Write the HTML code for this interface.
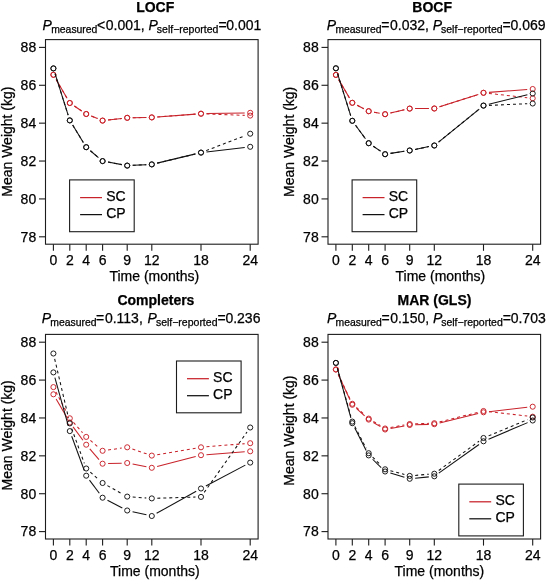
<!DOCTYPE html><html><head><meta charset="utf-8"><style>
html,body{margin:0;padding:0;background:#fff;}
svg{display:block;font-family:"Liberation Sans", sans-serif;will-change:transform;} text{stroke:#000;stroke-width:0.25px;}
</style></head><body>
<svg width="546" height="580" viewBox="0 0 546 580" fill="#000">
<rect width="546" height="580" fill="#fff"/>
<g transform="translate(0,0)">
<text x="155.2" y="11.8" font-weight="bold" font-size="14" text-anchor="middle">LOCF</text>
<text x="42.6" y="30.2" font-size="14" font-style="italic">P</text>
<text x="51.2" y="33.3" font-size="10.4">measured</text>
<text x="97" y="30.2" font-size="14">&lt;</text>
<text x="105.8" y="30.2" font-size="14">0.001,</text>
<text x="148.5" y="30.2" font-size="14" font-style="italic">P</text>
<text x="156.8" y="33.3" font-size="10.5">self−reported</text>
<text x="218.4" y="30.2" font-size="14">=</text>
<text x="226.3" y="30.2" font-size="14">0.001</text>
<rect x="45.5" y="39.6" width="212.6" height="204.6" fill="none" stroke="#1c1c1c" stroke-width="1.1"/>
<line x1="39" y1="236.8" x2="45.5" y2="236.8" stroke="#1c1c1c" stroke-width="1.1"/>
<text x="36.2" y="241.6" font-size="14" text-anchor="end">78</text>
<line x1="39" y1="198.92" x2="45.5" y2="198.92" stroke="#1c1c1c" stroke-width="1.1"/>
<text x="36.2" y="203.72" font-size="14" text-anchor="end">80</text>
<line x1="39" y1="161.04" x2="45.5" y2="161.04" stroke="#1c1c1c" stroke-width="1.1"/>
<text x="36.2" y="165.84" font-size="14" text-anchor="end">82</text>
<line x1="39" y1="123.16" x2="45.5" y2="123.16" stroke="#1c1c1c" stroke-width="1.1"/>
<text x="36.2" y="127.96" font-size="14" text-anchor="end">84</text>
<line x1="39" y1="85.28" x2="45.5" y2="85.28" stroke="#1c1c1c" stroke-width="1.1"/>
<text x="36.2" y="90.08" font-size="14" text-anchor="end">86</text>
<line x1="39" y1="47.4" x2="45.5" y2="47.4" stroke="#1c1c1c" stroke-width="1.1"/>
<text x="36.2" y="52.2" font-size="14" text-anchor="end">88</text>
<line x1="53.4" y1="244.2" x2="53.4" y2="250.8" stroke="#1c1c1c" stroke-width="1.1"/>
<text x="53.4" y="264.6" font-size="14" text-anchor="middle">0</text>
<line x1="69.8" y1="244.2" x2="69.8" y2="250.8" stroke="#1c1c1c" stroke-width="1.1"/>
<text x="69.8" y="264.6" font-size="14" text-anchor="middle">2</text>
<line x1="86.2" y1="244.2" x2="86.2" y2="250.8" stroke="#1c1c1c" stroke-width="1.1"/>
<text x="86.2" y="264.6" font-size="14" text-anchor="middle">4</text>
<line x1="102.6" y1="244.2" x2="102.6" y2="250.8" stroke="#1c1c1c" stroke-width="1.1"/>
<text x="102.6" y="264.6" font-size="14" text-anchor="middle">6</text>
<line x1="127.2" y1="244.2" x2="127.2" y2="250.8" stroke="#1c1c1c" stroke-width="1.1"/>
<text x="127.2" y="264.6" font-size="14" text-anchor="middle">9</text>
<line x1="151.8" y1="244.2" x2="151.8" y2="250.8" stroke="#1c1c1c" stroke-width="1.1"/>
<text x="151.8" y="264.6" font-size="14" text-anchor="middle">12</text>
<line x1="201" y1="244.2" x2="201" y2="250.8" stroke="#1c1c1c" stroke-width="1.1"/>
<text x="201" y="264.6" font-size="14" text-anchor="middle">18</text>
<line x1="250.2" y1="244.2" x2="250.2" y2="250.8" stroke="#1c1c1c" stroke-width="1.1"/>
<text x="250.2" y="264.6" font-size="14" text-anchor="middle">24</text>
<text x="154.3" y="280.6" font-size="14" text-anchor="middle">Time (months)</text>
<text transform="translate(12,141.65) rotate(-90)" x="0" y="0" font-size="14" text-anchor="middle">Mean Weight (kg)</text>
<line x1="56.16" y1="79.55" x2="67.04" y2="98.25" stroke="#c8222a" stroke-width="1.05"/>
<line x1="74.37" y1="106.06" x2="81.63" y2="110.94" stroke="#c8222a" stroke-width="1.05"/>
<line x1="91.3" y1="116.05" x2="97.5" y2="118.55" stroke="#c8222a" stroke-width="1.05"/>
<line x1="108.06" y1="119.98" x2="121.74" y2="118.42" stroke="#c8222a" stroke-width="1.05"/>
<line x1="132.7" y1="117.71" x2="146.3" y2="117.49" stroke="#c8222a" stroke-width="1.05"/>
<line x1="157.28" y1="116.99" x2="195.52" y2="114.11" stroke="#c8222a" stroke-width="1.05"/>
<line x1="206.5" y1="113.6" x2="244.7" y2="112.9" stroke="#c8222a" stroke-width="1.05"/>
<circle cx="53.4" cy="74.8" r="2.55" fill="none" stroke="#c8222a" stroke-width="0.95"/>
<circle cx="69.8" cy="103" r="2.55" fill="none" stroke="#c8222a" stroke-width="0.95"/>
<circle cx="86.2" cy="114" r="2.55" fill="none" stroke="#c8222a" stroke-width="0.95"/>
<circle cx="102.6" cy="120.6" r="2.55" fill="none" stroke="#c8222a" stroke-width="0.95"/>
<circle cx="127.2" cy="117.8" r="2.55" fill="none" stroke="#c8222a" stroke-width="0.95"/>
<circle cx="151.8" cy="117.4" r="2.55" fill="none" stroke="#c8222a" stroke-width="0.95"/>
<circle cx="201" cy="113.7" r="2.55" fill="none" stroke="#c8222a" stroke-width="0.95"/>
<circle cx="250.2" cy="112.8" r="2.55" fill="none" stroke="#c8222a" stroke-width="0.95"/>
<line x1="56.16" y1="79.55" x2="67.04" y2="98.25" stroke="#c8222a" stroke-width="1.05" stroke-dasharray="3 3"/>
<line x1="74.37" y1="106.06" x2="81.63" y2="110.94" stroke="#c8222a" stroke-width="1.05" stroke-dasharray="3 3"/>
<line x1="91.3" y1="116.05" x2="97.5" y2="118.55" stroke="#c8222a" stroke-width="1.05" stroke-dasharray="3 3"/>
<line x1="108.06" y1="119.98" x2="121.74" y2="118.42" stroke="#c8222a" stroke-width="1.05" stroke-dasharray="3 3"/>
<line x1="132.7" y1="117.71" x2="146.3" y2="117.49" stroke="#c8222a" stroke-width="1.05" stroke-dasharray="3 3"/>
<line x1="157.28" y1="116.99" x2="195.52" y2="114.11" stroke="#c8222a" stroke-width="1.05" stroke-dasharray="3 3"/>
<line x1="206.5" y1="113.91" x2="244.7" y2="115.39" stroke="#c8222a" stroke-width="1.05" stroke-dasharray="3 3"/>
<circle cx="53.4" cy="74.8" r="2.55" fill="none" stroke="#c8222a" stroke-width="0.95"/>
<circle cx="69.8" cy="103" r="2.55" fill="none" stroke="#c8222a" stroke-width="0.95"/>
<circle cx="86.2" cy="114" r="2.55" fill="none" stroke="#c8222a" stroke-width="0.95"/>
<circle cx="102.6" cy="120.6" r="2.55" fill="none" stroke="#c8222a" stroke-width="0.95"/>
<circle cx="127.2" cy="117.8" r="2.55" fill="none" stroke="#c8222a" stroke-width="0.95"/>
<circle cx="151.8" cy="117.4" r="2.55" fill="none" stroke="#c8222a" stroke-width="0.95"/>
<circle cx="201" cy="113.7" r="2.55" fill="none" stroke="#c8222a" stroke-width="0.95"/>
<circle cx="250.2" cy="115.6" r="2.55" fill="none" stroke="#c8222a" stroke-width="0.95"/>
<line x1="55.05" y1="73.65" x2="68.15" y2="115.15" stroke="#111" stroke-width="1.05"/>
<line x1="72.67" y1="125.09" x2="83.33" y2="142.51" stroke="#111" stroke-width="1.05"/>
<line x1="90.4" y1="150.76" x2="98.4" y2="157.54" stroke="#111" stroke-width="1.05"/>
<line x1="108.01" y1="162.09" x2="121.79" y2="164.61" stroke="#111" stroke-width="1.05"/>
<line x1="132.69" y1="165.33" x2="146.31" y2="164.67" stroke="#111" stroke-width="1.05"/>
<line x1="157.15" y1="163.12" x2="195.65" y2="153.88" stroke="#111" stroke-width="1.05"/>
<line x1="206.46" y1="151.96" x2="244.74" y2="147.44" stroke="#111" stroke-width="1.05"/>
<circle cx="53.4" cy="68.4" r="2.55" fill="none" stroke="#111" stroke-width="0.95"/>
<circle cx="69.8" cy="120.4" r="2.55" fill="none" stroke="#111" stroke-width="0.95"/>
<circle cx="86.2" cy="147.2" r="2.55" fill="none" stroke="#111" stroke-width="0.95"/>
<circle cx="102.6" cy="161.1" r="2.55" fill="none" stroke="#111" stroke-width="0.95"/>
<circle cx="127.2" cy="165.6" r="2.55" fill="none" stroke="#111" stroke-width="0.95"/>
<circle cx="151.8" cy="164.4" r="2.55" fill="none" stroke="#111" stroke-width="0.95"/>
<circle cx="201" cy="152.6" r="2.55" fill="none" stroke="#111" stroke-width="0.95"/>
<circle cx="250.2" cy="146.8" r="2.55" fill="none" stroke="#111" stroke-width="0.95"/>
<line x1="55.05" y1="73.65" x2="68.15" y2="115.15" stroke="#111" stroke-width="1.05" stroke-dasharray="3 3"/>
<line x1="72.67" y1="125.09" x2="83.33" y2="142.51" stroke="#111" stroke-width="1.05" stroke-dasharray="3 3"/>
<line x1="90.4" y1="150.76" x2="98.4" y2="157.54" stroke="#111" stroke-width="1.05" stroke-dasharray="3 3"/>
<line x1="108.01" y1="162.09" x2="121.79" y2="164.61" stroke="#111" stroke-width="1.05" stroke-dasharray="3 3"/>
<line x1="132.69" y1="165.33" x2="146.31" y2="164.67" stroke="#111" stroke-width="1.05" stroke-dasharray="3 3"/>
<line x1="157.15" y1="163.12" x2="195.65" y2="153.88" stroke="#111" stroke-width="1.05" stroke-dasharray="3 3"/>
<line x1="206.13" y1="150.63" x2="245.07" y2="135.67" stroke="#111" stroke-width="1.05" stroke-dasharray="3 3"/>
<circle cx="53.4" cy="68.4" r="2.55" fill="none" stroke="#111" stroke-width="0.95"/>
<circle cx="69.8" cy="120.4" r="2.55" fill="none" stroke="#111" stroke-width="0.95"/>
<circle cx="86.2" cy="147.2" r="2.55" fill="none" stroke="#111" stroke-width="0.95"/>
<circle cx="102.6" cy="161.1" r="2.55" fill="none" stroke="#111" stroke-width="0.95"/>
<circle cx="127.2" cy="165.6" r="2.55" fill="none" stroke="#111" stroke-width="0.95"/>
<circle cx="151.8" cy="164.4" r="2.55" fill="none" stroke="#111" stroke-width="0.95"/>
<circle cx="201" cy="152.6" r="2.55" fill="none" stroke="#111" stroke-width="0.95"/>
<circle cx="250.2" cy="133.7" r="2.55" fill="none" stroke="#111" stroke-width="0.95"/>
<rect x="69.6" y="179.9" width="64.6" height="51.8" fill="none" stroke="#1c1c1c" stroke-width="1.1"/>
<line x1="80.1" y1="197.6" x2="102" y2="197.6" stroke="#c8222a" stroke-width="1.25"/>
<line x1="80.1" y1="214.6" x2="102" y2="214.6" stroke="#111" stroke-width="1.25"/>
<text x="106.2" y="201.3" font-size="14">SC</text>
<text x="106.2" y="218.3" font-size="14">CP</text>
</g>
<g transform="translate(282.5,0)">
<text x="149.7" y="11.8" font-weight="bold" font-size="14" text-anchor="middle">BOCF</text>
<text x="44.3" y="30.2" font-size="14" font-style="italic">P</text>
<text x="52.9" y="33.3" font-size="10.4">measured</text>
<text x="98.7" y="30.2" font-size="14">=</text>
<text x="107.5" y="30.2" font-size="14">0.032,</text>
<text x="150.2" y="30.2" font-size="14" font-style="italic">P</text>
<text x="158.5" y="33.3" font-size="10.5">self−reported</text>
<text x="220.1" y="30.2" font-size="14">=</text>
<text x="228" y="30.2" font-size="14">0.069</text>
<rect x="45.5" y="39.6" width="212.6" height="204.6" fill="none" stroke="#1c1c1c" stroke-width="1.1"/>
<line x1="39" y1="236.8" x2="45.5" y2="236.8" stroke="#1c1c1c" stroke-width="1.1"/>
<text x="36.2" y="241.6" font-size="14" text-anchor="end">78</text>
<line x1="39" y1="198.92" x2="45.5" y2="198.92" stroke="#1c1c1c" stroke-width="1.1"/>
<text x="36.2" y="203.72" font-size="14" text-anchor="end">80</text>
<line x1="39" y1="161.04" x2="45.5" y2="161.04" stroke="#1c1c1c" stroke-width="1.1"/>
<text x="36.2" y="165.84" font-size="14" text-anchor="end">82</text>
<line x1="39" y1="123.16" x2="45.5" y2="123.16" stroke="#1c1c1c" stroke-width="1.1"/>
<text x="36.2" y="127.96" font-size="14" text-anchor="end">84</text>
<line x1="39" y1="85.28" x2="45.5" y2="85.28" stroke="#1c1c1c" stroke-width="1.1"/>
<text x="36.2" y="90.08" font-size="14" text-anchor="end">86</text>
<line x1="39" y1="47.4" x2="45.5" y2="47.4" stroke="#1c1c1c" stroke-width="1.1"/>
<text x="36.2" y="52.2" font-size="14" text-anchor="end">88</text>
<line x1="53.4" y1="244.2" x2="53.4" y2="250.8" stroke="#1c1c1c" stroke-width="1.1"/>
<text x="53.4" y="264.6" font-size="14" text-anchor="middle">0</text>
<line x1="69.8" y1="244.2" x2="69.8" y2="250.8" stroke="#1c1c1c" stroke-width="1.1"/>
<text x="69.8" y="264.6" font-size="14" text-anchor="middle">2</text>
<line x1="86.2" y1="244.2" x2="86.2" y2="250.8" stroke="#1c1c1c" stroke-width="1.1"/>
<text x="86.2" y="264.6" font-size="14" text-anchor="middle">4</text>
<line x1="102.6" y1="244.2" x2="102.6" y2="250.8" stroke="#1c1c1c" stroke-width="1.1"/>
<text x="102.6" y="264.6" font-size="14" text-anchor="middle">6</text>
<line x1="127.2" y1="244.2" x2="127.2" y2="250.8" stroke="#1c1c1c" stroke-width="1.1"/>
<text x="127.2" y="264.6" font-size="14" text-anchor="middle">9</text>
<line x1="151.8" y1="244.2" x2="151.8" y2="250.8" stroke="#1c1c1c" stroke-width="1.1"/>
<text x="151.8" y="264.6" font-size="14" text-anchor="middle">12</text>
<line x1="201" y1="244.2" x2="201" y2="250.8" stroke="#1c1c1c" stroke-width="1.1"/>
<text x="201" y="264.6" font-size="14" text-anchor="middle">18</text>
<line x1="250.2" y1="244.2" x2="250.2" y2="250.8" stroke="#1c1c1c" stroke-width="1.1"/>
<text x="250.2" y="264.6" font-size="14" text-anchor="middle">24</text>
<text x="157.9" y="280.6" font-size="14" text-anchor="middle">Time (months)</text>
<text transform="translate(11.1,141.85) rotate(-90)" x="0" y="0" font-size="14" text-anchor="middle">Mean Weight (kg)</text>
<line x1="56.19" y1="79.64" x2="67.01" y2="98.06" stroke="#c8222a" stroke-width="1.05"/>
<line x1="74.7" y1="105.31" x2="81.3" y2="108.69" stroke="#c8222a" stroke-width="1.05"/>
<line x1="91.61" y1="112.19" x2="97.19" y2="113.21" stroke="#c8222a" stroke-width="1.05"/>
<line x1="107.96" y1="112.98" x2="121.84" y2="109.82" stroke="#c8222a" stroke-width="1.05"/>
<line x1="132.7" y1="108.58" x2="146.3" y2="108.52" stroke="#c8222a" stroke-width="1.05"/>
<line x1="157.04" y1="106.83" x2="195.76" y2="94.47" stroke="#c8222a" stroke-width="1.05"/>
<line x1="206.48" y1="92.38" x2="244.72" y2="89.42" stroke="#c8222a" stroke-width="1.05"/>
<circle cx="53.4" cy="74.9" r="2.55" fill="none" stroke="#c8222a" stroke-width="0.95"/>
<circle cx="69.8" cy="102.8" r="2.55" fill="none" stroke="#c8222a" stroke-width="0.95"/>
<circle cx="86.2" cy="111.2" r="2.55" fill="none" stroke="#c8222a" stroke-width="0.95"/>
<circle cx="102.6" cy="114.2" r="2.55" fill="none" stroke="#c8222a" stroke-width="0.95"/>
<circle cx="127.2" cy="108.6" r="2.55" fill="none" stroke="#c8222a" stroke-width="0.95"/>
<circle cx="151.8" cy="108.5" r="2.55" fill="none" stroke="#c8222a" stroke-width="0.95"/>
<circle cx="201" cy="92.8" r="2.55" fill="none" stroke="#c8222a" stroke-width="0.95"/>
<circle cx="250.2" cy="89" r="2.55" fill="none" stroke="#c8222a" stroke-width="0.95"/>
<line x1="56.19" y1="79.64" x2="67.01" y2="98.06" stroke="#c8222a" stroke-width="1.05" stroke-dasharray="3 3"/>
<line x1="74.7" y1="105.31" x2="81.3" y2="108.69" stroke="#c8222a" stroke-width="1.05" stroke-dasharray="3 3"/>
<line x1="91.61" y1="112.19" x2="97.19" y2="113.21" stroke="#c8222a" stroke-width="1.05" stroke-dasharray="3 3"/>
<line x1="107.96" y1="112.98" x2="121.84" y2="109.82" stroke="#c8222a" stroke-width="1.05" stroke-dasharray="3 3"/>
<line x1="132.7" y1="108.58" x2="146.3" y2="108.52" stroke="#c8222a" stroke-width="1.05" stroke-dasharray="3 3"/>
<line x1="157.04" y1="106.83" x2="195.76" y2="94.47" stroke="#c8222a" stroke-width="1.05" stroke-dasharray="3 3"/>
<line x1="206.47" y1="93.41" x2="244.73" y2="97.69" stroke="#c8222a" stroke-width="1.05" stroke-dasharray="3 3"/>
<circle cx="53.4" cy="74.9" r="2.55" fill="none" stroke="#c8222a" stroke-width="0.95"/>
<circle cx="69.8" cy="102.8" r="2.55" fill="none" stroke="#c8222a" stroke-width="0.95"/>
<circle cx="86.2" cy="111.2" r="2.55" fill="none" stroke="#c8222a" stroke-width="0.95"/>
<circle cx="102.6" cy="114.2" r="2.55" fill="none" stroke="#c8222a" stroke-width="0.95"/>
<circle cx="127.2" cy="108.6" r="2.55" fill="none" stroke="#c8222a" stroke-width="0.95"/>
<circle cx="151.8" cy="108.5" r="2.55" fill="none" stroke="#c8222a" stroke-width="0.95"/>
<circle cx="201" cy="92.8" r="2.55" fill="none" stroke="#c8222a" stroke-width="0.95"/>
<circle cx="250.2" cy="98.3" r="2.55" fill="none" stroke="#c8222a" stroke-width="0.95"/>
<line x1="55.04" y1="73.55" x2="68.16" y2="115.55" stroke="#111" stroke-width="1.05"/>
<line x1="73.05" y1="125.24" x2="82.95" y2="138.76" stroke="#111" stroke-width="1.05"/>
<line x1="90.77" y1="146.26" x2="98.03" y2="151.14" stroke="#111" stroke-width="1.05"/>
<line x1="108.04" y1="153.38" x2="121.76" y2="151.32" stroke="#111" stroke-width="1.05"/>
<line x1="132.59" y1="149.4" x2="146.41" y2="146.6" stroke="#111" stroke-width="1.05"/>
<line x1="156.07" y1="142.04" x2="196.73" y2="109.06" stroke="#111" stroke-width="1.05"/>
<line x1="206.34" y1="104.29" x2="244.86" y2="94.81" stroke="#111" stroke-width="1.05"/>
<circle cx="53.4" cy="68.3" r="2.55" fill="none" stroke="#111" stroke-width="0.95"/>
<circle cx="69.8" cy="120.8" r="2.55" fill="none" stroke="#111" stroke-width="0.95"/>
<circle cx="86.2" cy="143.2" r="2.55" fill="none" stroke="#111" stroke-width="0.95"/>
<circle cx="102.6" cy="154.2" r="2.55" fill="none" stroke="#111" stroke-width="0.95"/>
<circle cx="127.2" cy="150.5" r="2.55" fill="none" stroke="#111" stroke-width="0.95"/>
<circle cx="151.8" cy="145.5" r="2.55" fill="none" stroke="#111" stroke-width="0.95"/>
<circle cx="201" cy="105.6" r="2.55" fill="none" stroke="#111" stroke-width="0.95"/>
<circle cx="250.2" cy="93.5" r="2.55" fill="none" stroke="#111" stroke-width="0.95"/>
<line x1="55.04" y1="73.55" x2="68.16" y2="115.55" stroke="#111" stroke-width="1.05" stroke-dasharray="3 3"/>
<line x1="73.05" y1="125.24" x2="82.95" y2="138.76" stroke="#111" stroke-width="1.05" stroke-dasharray="3 3"/>
<line x1="90.77" y1="146.26" x2="98.03" y2="151.14" stroke="#111" stroke-width="1.05" stroke-dasharray="3 3"/>
<line x1="108.04" y1="153.38" x2="121.76" y2="151.32" stroke="#111" stroke-width="1.05" stroke-dasharray="3 3"/>
<line x1="132.59" y1="149.4" x2="146.41" y2="146.6" stroke="#111" stroke-width="1.05" stroke-dasharray="3 3"/>
<line x1="156.07" y1="142.04" x2="196.73" y2="109.06" stroke="#111" stroke-width="1.05" stroke-dasharray="3 3"/>
<line x1="206.49" y1="105.37" x2="244.71" y2="103.73" stroke="#111" stroke-width="1.05" stroke-dasharray="3 3"/>
<circle cx="53.4" cy="68.3" r="2.55" fill="none" stroke="#111" stroke-width="0.95"/>
<circle cx="69.8" cy="120.8" r="2.55" fill="none" stroke="#111" stroke-width="0.95"/>
<circle cx="86.2" cy="143.2" r="2.55" fill="none" stroke="#111" stroke-width="0.95"/>
<circle cx="102.6" cy="154.2" r="2.55" fill="none" stroke="#111" stroke-width="0.95"/>
<circle cx="127.2" cy="150.5" r="2.55" fill="none" stroke="#111" stroke-width="0.95"/>
<circle cx="151.8" cy="145.5" r="2.55" fill="none" stroke="#111" stroke-width="0.95"/>
<circle cx="201" cy="105.6" r="2.55" fill="none" stroke="#111" stroke-width="0.95"/>
<circle cx="250.2" cy="103.5" r="2.55" fill="none" stroke="#111" stroke-width="0.95"/>
<rect x="69.6" y="179.9" width="64.6" height="51.8" fill="none" stroke="#1c1c1c" stroke-width="1.1"/>
<line x1="80.1" y1="197.6" x2="102" y2="197.6" stroke="#c8222a" stroke-width="1.25"/>
<line x1="80.1" y1="214.6" x2="102" y2="214.6" stroke="#111" stroke-width="1.25"/>
<text x="106.2" y="201.3" font-size="14">SC</text>
<text x="106.2" y="218.3" font-size="14">CP</text>
</g>
<g transform="translate(0,294.8)">
<text x="155.9" y="10.4" font-weight="bold" font-size="14" text-anchor="middle">Completers</text>
<text x="41.7" y="27.9" font-size="14" font-style="italic">P</text>
<text x="50.3" y="31.4" font-size="10.4">measured</text>
<text x="96.1" y="27.9" font-size="14">=</text>
<text x="104.9" y="27.9" font-size="14">0.113,</text>
<text x="147.6" y="27.9" font-size="14" font-style="italic">P</text>
<text x="155.9" y="31.4" font-size="10.5">self−reported</text>
<text x="217.5" y="27.9" font-size="14">=</text>
<text x="225.4" y="27.9" font-size="14">0.236</text>
<rect x="45.5" y="39.6" width="212.6" height="204.6" fill="none" stroke="#1c1c1c" stroke-width="1.1"/>
<line x1="39" y1="236.8" x2="45.5" y2="236.8" stroke="#1c1c1c" stroke-width="1.1"/>
<text x="36.2" y="241.6" font-size="14" text-anchor="end">78</text>
<line x1="39" y1="198.92" x2="45.5" y2="198.92" stroke="#1c1c1c" stroke-width="1.1"/>
<text x="36.2" y="203.72" font-size="14" text-anchor="end">80</text>
<line x1="39" y1="161.04" x2="45.5" y2="161.04" stroke="#1c1c1c" stroke-width="1.1"/>
<text x="36.2" y="165.84" font-size="14" text-anchor="end">82</text>
<line x1="39" y1="123.16" x2="45.5" y2="123.16" stroke="#1c1c1c" stroke-width="1.1"/>
<text x="36.2" y="127.96" font-size="14" text-anchor="end">84</text>
<line x1="39" y1="85.28" x2="45.5" y2="85.28" stroke="#1c1c1c" stroke-width="1.1"/>
<text x="36.2" y="90.08" font-size="14" text-anchor="end">86</text>
<line x1="39" y1="47.4" x2="45.5" y2="47.4" stroke="#1c1c1c" stroke-width="1.1"/>
<text x="36.2" y="52.2" font-size="14" text-anchor="end">88</text>
<line x1="53.4" y1="244.2" x2="53.4" y2="250.8" stroke="#1c1c1c" stroke-width="1.1"/>
<text x="53.4" y="265.2" font-size="14" text-anchor="middle">0</text>
<line x1="69.8" y1="244.2" x2="69.8" y2="250.8" stroke="#1c1c1c" stroke-width="1.1"/>
<text x="69.8" y="265.2" font-size="14" text-anchor="middle">2</text>
<line x1="86.2" y1="244.2" x2="86.2" y2="250.8" stroke="#1c1c1c" stroke-width="1.1"/>
<text x="86.2" y="265.2" font-size="14" text-anchor="middle">4</text>
<line x1="102.6" y1="244.2" x2="102.6" y2="250.8" stroke="#1c1c1c" stroke-width="1.1"/>
<text x="102.6" y="265.2" font-size="14" text-anchor="middle">6</text>
<line x1="127.2" y1="244.2" x2="127.2" y2="250.8" stroke="#1c1c1c" stroke-width="1.1"/>
<text x="127.2" y="265.2" font-size="14" text-anchor="middle">9</text>
<line x1="151.8" y1="244.2" x2="151.8" y2="250.8" stroke="#1c1c1c" stroke-width="1.1"/>
<text x="151.8" y="265.2" font-size="14" text-anchor="middle">12</text>
<line x1="201" y1="244.2" x2="201" y2="250.8" stroke="#1c1c1c" stroke-width="1.1"/>
<text x="201" y="265.2" font-size="14" text-anchor="middle">18</text>
<line x1="250.2" y1="244.2" x2="250.2" y2="250.8" stroke="#1c1c1c" stroke-width="1.1"/>
<text x="250.2" y="265.2" font-size="14" text-anchor="middle">24</text>
<text x="154.9" y="281.1" font-size="14" text-anchor="middle">Time (months)</text>
<text transform="translate(11.8,140.55) rotate(-90)" x="0" y="0" font-size="14" text-anchor="middle">Mean Weight (kg)</text>
<line x1="56.16" y1="104.25" x2="67.04" y2="122.95" stroke="#c8222a" stroke-width="1.05"/>
<line x1="73.07" y1="132.12" x2="82.93" y2="145.48" stroke="#c8222a" stroke-width="1.05"/>
<line x1="89.79" y1="154.06" x2="99.01" y2="164.74" stroke="#c8222a" stroke-width="1.05"/>
<line x1="108.1" y1="168.74" x2="121.7" y2="168.36" stroke="#c8222a" stroke-width="1.05"/>
<line x1="132.6" y1="169.25" x2="146.4" y2="171.95" stroke="#c8222a" stroke-width="1.05"/>
<line x1="157.13" y1="171.64" x2="195.67" y2="161.76" stroke="#c8222a" stroke-width="1.05"/>
<line x1="206.48" y1="159.97" x2="244.72" y2="156.93" stroke="#c8222a" stroke-width="1.05"/>
<circle cx="53.4" cy="99.5" r="2.55" fill="none" stroke="#c8222a" stroke-width="0.95"/>
<circle cx="69.8" cy="127.7" r="2.55" fill="none" stroke="#c8222a" stroke-width="0.95"/>
<circle cx="86.2" cy="149.9" r="2.55" fill="none" stroke="#c8222a" stroke-width="0.95"/>
<circle cx="102.6" cy="168.9" r="2.55" fill="none" stroke="#c8222a" stroke-width="0.95"/>
<circle cx="127.2" cy="168.2" r="2.55" fill="none" stroke="#c8222a" stroke-width="0.95"/>
<circle cx="151.8" cy="173" r="2.55" fill="none" stroke="#c8222a" stroke-width="0.95"/>
<circle cx="201" cy="160.4" r="2.55" fill="none" stroke="#c8222a" stroke-width="0.95"/>
<circle cx="250.2" cy="156.5" r="2.55" fill="none" stroke="#c8222a" stroke-width="0.95"/>
<line x1="55.96" y1="97.17" x2="67.24" y2="118.63" stroke="#c8222a" stroke-width="1.05" stroke-dasharray="3 3"/>
<line x1="73.44" y1="127.63" x2="82.56" y2="137.97" stroke="#c8222a" stroke-width="1.05" stroke-dasharray="3 3"/>
<line x1="90.4" y1="145.66" x2="98.4" y2="152.44" stroke="#c8222a" stroke-width="1.05" stroke-dasharray="3 3"/>
<line x1="108.05" y1="155.23" x2="121.75" y2="153.27" stroke="#c8222a" stroke-width="1.05" stroke-dasharray="3 3"/>
<line x1="132.41" y1="154.26" x2="146.59" y2="159.04" stroke="#c8222a" stroke-width="1.05" stroke-dasharray="3 3"/>
<line x1="157.22" y1="159.89" x2="195.58" y2="153.41" stroke="#c8222a" stroke-width="1.05" stroke-dasharray="3 3"/>
<line x1="206.48" y1="152.04" x2="244.72" y2="148.86" stroke="#c8222a" stroke-width="1.05" stroke-dasharray="3 3"/>
<circle cx="53.4" cy="92.3" r="2.55" fill="none" stroke="#c8222a" stroke-width="0.95"/>
<circle cx="69.8" cy="123.5" r="2.55" fill="none" stroke="#c8222a" stroke-width="0.95"/>
<circle cx="86.2" cy="142.1" r="2.55" fill="none" stroke="#c8222a" stroke-width="0.95"/>
<circle cx="102.6" cy="156" r="2.55" fill="none" stroke="#c8222a" stroke-width="0.95"/>
<circle cx="127.2" cy="152.5" r="2.55" fill="none" stroke="#c8222a" stroke-width="0.95"/>
<circle cx="151.8" cy="160.8" r="2.55" fill="none" stroke="#c8222a" stroke-width="0.95"/>
<circle cx="201" cy="152.5" r="2.55" fill="none" stroke="#c8222a" stroke-width="0.95"/>
<circle cx="250.2" cy="148.4" r="2.55" fill="none" stroke="#c8222a" stroke-width="0.95"/>
<line x1="54.88" y1="82.9" x2="68.32" y2="131" stroke="#111" stroke-width="1.05"/>
<line x1="71.7" y1="141.46" x2="84.3" y2="175.74" stroke="#111" stroke-width="1.05"/>
<line x1="89.49" y1="185.31" x2="99.31" y2="198.49" stroke="#111" stroke-width="1.05"/>
<line x1="107.48" y1="205.44" x2="122.32" y2="213.16" stroke="#111" stroke-width="1.05"/>
<line x1="132.57" y1="216.9" x2="146.43" y2="220" stroke="#111" stroke-width="1.05"/>
<line x1="156.6" y1="218.52" x2="196.2" y2="196.38" stroke="#111" stroke-width="1.05"/>
<line x1="205.87" y1="191.14" x2="245.33" y2="170.36" stroke="#111" stroke-width="1.05"/>
<circle cx="53.4" cy="77.6" r="2.55" fill="none" stroke="#111" stroke-width="0.95"/>
<circle cx="69.8" cy="136.3" r="2.55" fill="none" stroke="#111" stroke-width="0.95"/>
<circle cx="86.2" cy="180.9" r="2.55" fill="none" stroke="#111" stroke-width="0.95"/>
<circle cx="102.6" cy="202.9" r="2.55" fill="none" stroke="#111" stroke-width="0.95"/>
<circle cx="127.2" cy="215.7" r="2.55" fill="none" stroke="#111" stroke-width="0.95"/>
<circle cx="151.8" cy="221.2" r="2.55" fill="none" stroke="#111" stroke-width="0.95"/>
<circle cx="201" cy="193.7" r="2.55" fill="none" stroke="#111" stroke-width="0.95"/>
<circle cx="250.2" cy="167.8" r="2.55" fill="none" stroke="#111" stroke-width="0.95"/>
<line x1="54.66" y1="64.05" x2="68.54" y2="123.25" stroke="#111" stroke-width="1.05" stroke-dasharray="3 3"/>
<line x1="71.68" y1="133.77" x2="84.32" y2="168.53" stroke="#111" stroke-width="1.05" stroke-dasharray="3 3"/>
<line x1="90.32" y1="177.34" x2="98.48" y2="184.56" stroke="#111" stroke-width="1.05" stroke-dasharray="3 3"/>
<line x1="107.41" y1="190.86" x2="122.39" y2="199.14" stroke="#111" stroke-width="1.05" stroke-dasharray="3 3"/>
<line x1="132.69" y1="202.2" x2="146.31" y2="203.2" stroke="#111" stroke-width="1.05" stroke-dasharray="3 3"/>
<line x1="157.3" y1="203.43" x2="195.5" y2="202.27" stroke="#111" stroke-width="1.05" stroke-dasharray="3 3"/>
<line x1="204.18" y1="197.61" x2="247.02" y2="137.19" stroke="#111" stroke-width="1.05" stroke-dasharray="3 3"/>
<circle cx="53.4" cy="58.7" r="2.55" fill="none" stroke="#111" stroke-width="0.95"/>
<circle cx="69.8" cy="128.6" r="2.55" fill="none" stroke="#111" stroke-width="0.95"/>
<circle cx="86.2" cy="173.7" r="2.55" fill="none" stroke="#111" stroke-width="0.95"/>
<circle cx="102.6" cy="188.2" r="2.55" fill="none" stroke="#111" stroke-width="0.95"/>
<circle cx="127.2" cy="201.8" r="2.55" fill="none" stroke="#111" stroke-width="0.95"/>
<circle cx="151.8" cy="203.6" r="2.55" fill="none" stroke="#111" stroke-width="0.95"/>
<circle cx="201" cy="202.1" r="2.55" fill="none" stroke="#111" stroke-width="0.95"/>
<circle cx="250.2" cy="132.7" r="2.55" fill="none" stroke="#111" stroke-width="0.95"/>
<rect x="176.5" y="66.2" width="64.6" height="51.8" fill="none" stroke="#1c1c1c" stroke-width="1.1"/>
<line x1="187" y1="83.9" x2="208.9" y2="83.9" stroke="#c8222a" stroke-width="1.25"/>
<line x1="187" y1="100.9" x2="208.9" y2="100.9" stroke="#111" stroke-width="1.25"/>
<text x="213.1" y="87.6" font-size="14">SC</text>
<text x="213.1" y="104.6" font-size="14">CP</text>
</g>
<g transform="translate(282.5,294.8)">
<text x="152" y="10.4" font-weight="bold" font-size="14" text-anchor="middle">MAR (GLS)</text>
<text x="44.5" y="27.9" font-size="14" font-style="italic">P</text>
<text x="53.1" y="31.4" font-size="10.4">measured</text>
<text x="98.9" y="27.9" font-size="14">=</text>
<text x="107.7" y="27.9" font-size="14">0.150,</text>
<text x="150.4" y="27.9" font-size="14" font-style="italic">P</text>
<text x="158.7" y="31.4" font-size="10.5">self−reported</text>
<text x="220.3" y="27.9" font-size="14">=</text>
<text x="228.2" y="27.9" font-size="14">0.703</text>
<rect x="45.5" y="39.6" width="212.6" height="204.6" fill="none" stroke="#1c1c1c" stroke-width="1.1"/>
<line x1="39" y1="236.8" x2="45.5" y2="236.8" stroke="#1c1c1c" stroke-width="1.1"/>
<text x="36.2" y="241.6" font-size="14" text-anchor="end">78</text>
<line x1="39" y1="198.92" x2="45.5" y2="198.92" stroke="#1c1c1c" stroke-width="1.1"/>
<text x="36.2" y="203.72" font-size="14" text-anchor="end">80</text>
<line x1="39" y1="161.04" x2="45.5" y2="161.04" stroke="#1c1c1c" stroke-width="1.1"/>
<text x="36.2" y="165.84" font-size="14" text-anchor="end">82</text>
<line x1="39" y1="123.16" x2="45.5" y2="123.16" stroke="#1c1c1c" stroke-width="1.1"/>
<text x="36.2" y="127.96" font-size="14" text-anchor="end">84</text>
<line x1="39" y1="85.28" x2="45.5" y2="85.28" stroke="#1c1c1c" stroke-width="1.1"/>
<text x="36.2" y="90.08" font-size="14" text-anchor="end">86</text>
<line x1="39" y1="47.4" x2="45.5" y2="47.4" stroke="#1c1c1c" stroke-width="1.1"/>
<text x="36.2" y="52.2" font-size="14" text-anchor="end">88</text>
<line x1="53.4" y1="244.2" x2="53.4" y2="250.8" stroke="#1c1c1c" stroke-width="1.1"/>
<text x="53.4" y="265.2" font-size="14" text-anchor="middle">0</text>
<line x1="69.8" y1="244.2" x2="69.8" y2="250.8" stroke="#1c1c1c" stroke-width="1.1"/>
<text x="69.8" y="265.2" font-size="14" text-anchor="middle">2</text>
<line x1="86.2" y1="244.2" x2="86.2" y2="250.8" stroke="#1c1c1c" stroke-width="1.1"/>
<text x="86.2" y="265.2" font-size="14" text-anchor="middle">4</text>
<line x1="102.6" y1="244.2" x2="102.6" y2="250.8" stroke="#1c1c1c" stroke-width="1.1"/>
<text x="102.6" y="265.2" font-size="14" text-anchor="middle">6</text>
<line x1="127.2" y1="244.2" x2="127.2" y2="250.8" stroke="#1c1c1c" stroke-width="1.1"/>
<text x="127.2" y="265.2" font-size="14" text-anchor="middle">9</text>
<line x1="151.8" y1="244.2" x2="151.8" y2="250.8" stroke="#1c1c1c" stroke-width="1.1"/>
<text x="151.8" y="265.2" font-size="14" text-anchor="middle">12</text>
<line x1="201" y1="244.2" x2="201" y2="250.8" stroke="#1c1c1c" stroke-width="1.1"/>
<text x="201" y="265.2" font-size="14" text-anchor="middle">18</text>
<line x1="250.2" y1="244.2" x2="250.2" y2="250.8" stroke="#1c1c1c" stroke-width="1.1"/>
<text x="250.2" y="265.2" font-size="14" text-anchor="middle">24</text>
<text x="156.9" y="281.1" font-size="14" text-anchor="middle">Time (months)</text>
<text transform="translate(11.1,135.8) rotate(-90)" x="0" y="0" font-size="14" text-anchor="middle">Mean Weight (kg)</text>
<line x1="55.72" y1="79.69" x2="67.48" y2="105.01" stroke="#c8222a" stroke-width="1.05"/>
<line x1="73.88" y1="113.68" x2="82.12" y2="121.12" stroke="#c8222a" stroke-width="1.05"/>
<line x1="90.91" y1="127.64" x2="97.89" y2="131.86" stroke="#c8222a" stroke-width="1.05"/>
<line x1="108.01" y1="133.71" x2="121.79" y2="131.19" stroke="#c8222a" stroke-width="1.05"/>
<line x1="132.7" y1="130.02" x2="146.3" y2="129.58" stroke="#c8222a" stroke-width="1.05"/>
<line x1="157.15" y1="128.11" x2="195.65" y2="118.79" stroke="#c8222a" stroke-width="1.05"/>
<line x1="206.46" y1="116.88" x2="244.74" y2="112.52" stroke="#c8222a" stroke-width="1.05"/>
<circle cx="53.4" cy="74.7" r="2.55" fill="none" stroke="#c8222a" stroke-width="0.95"/>
<circle cx="69.8" cy="110" r="2.55" fill="none" stroke="#c8222a" stroke-width="0.95"/>
<circle cx="86.2" cy="124.8" r="2.55" fill="none" stroke="#c8222a" stroke-width="0.95"/>
<circle cx="102.6" cy="134.7" r="2.55" fill="none" stroke="#c8222a" stroke-width="0.95"/>
<circle cx="127.2" cy="130.2" r="2.55" fill="none" stroke="#c8222a" stroke-width="0.95"/>
<circle cx="151.8" cy="129.4" r="2.55" fill="none" stroke="#c8222a" stroke-width="0.95"/>
<circle cx="201" cy="117.5" r="2.55" fill="none" stroke="#c8222a" stroke-width="0.95"/>
<circle cx="250.2" cy="111.9" r="2.55" fill="none" stroke="#c8222a" stroke-width="0.95"/>
<line x1="55.77" y1="79.66" x2="67.43" y2="104.04" stroke="#c8222a" stroke-width="1.05" stroke-dasharray="3 3"/>
<line x1="73.88" y1="112.68" x2="82.12" y2="120.12" stroke="#c8222a" stroke-width="1.05" stroke-dasharray="3 3"/>
<line x1="90.91" y1="126.64" x2="97.89" y2="130.86" stroke="#c8222a" stroke-width="1.05" stroke-dasharray="3 3"/>
<line x1="108.01" y1="132.71" x2="121.79" y2="130.19" stroke="#c8222a" stroke-width="1.05" stroke-dasharray="3 3"/>
<line x1="132.7" y1="129.02" x2="146.3" y2="128.58" stroke="#c8222a" stroke-width="1.05" stroke-dasharray="3 3"/>
<line x1="157.14" y1="127.08" x2="195.66" y2="117.52" stroke="#c8222a" stroke-width="1.05" stroke-dasharray="3 3"/>
<line x1="206.46" y1="116.83" x2="244.74" y2="121.27" stroke="#c8222a" stroke-width="1.05" stroke-dasharray="3 3"/>
<circle cx="53.4" cy="74.7" r="2.55" fill="none" stroke="#c8222a" stroke-width="0.95"/>
<circle cx="69.8" cy="109" r="2.55" fill="none" stroke="#c8222a" stroke-width="0.95"/>
<circle cx="86.2" cy="123.8" r="2.55" fill="none" stroke="#c8222a" stroke-width="0.95"/>
<circle cx="102.6" cy="133.7" r="2.55" fill="none" stroke="#c8222a" stroke-width="0.95"/>
<circle cx="127.2" cy="129.2" r="2.55" fill="none" stroke="#c8222a" stroke-width="0.95"/>
<circle cx="151.8" cy="128.4" r="2.55" fill="none" stroke="#c8222a" stroke-width="0.95"/>
<circle cx="201" cy="116.2" r="2.55" fill="none" stroke="#c8222a" stroke-width="0.95"/>
<circle cx="250.2" cy="121.9" r="2.55" fill="none" stroke="#c8222a" stroke-width="0.95"/>
<line x1="54.84" y1="73.41" x2="68.36" y2="123.09" stroke="#111" stroke-width="1.05"/>
<line x1="72.3" y1="133.3" x2="83.7" y2="155.7" stroke="#111" stroke-width="1.05"/>
<line x1="90.12" y1="164.45" x2="98.68" y2="172.85" stroke="#111" stroke-width="1.05"/>
<line x1="107.87" y1="178.26" x2="121.93" y2="182.44" stroke="#111" stroke-width="1.05"/>
<line x1="132.67" y1="183.44" x2="146.33" y2="182.06" stroke="#111" stroke-width="1.05"/>
<line x1="156.28" y1="178.31" x2="196.52" y2="149.69" stroke="#111" stroke-width="1.05"/>
<line x1="206.07" y1="144.36" x2="245.13" y2="127.84" stroke="#111" stroke-width="1.05"/>
<circle cx="53.4" cy="68.1" r="2.55" fill="none" stroke="#111" stroke-width="0.95"/>
<circle cx="69.8" cy="128.4" r="2.55" fill="none" stroke="#111" stroke-width="0.95"/>
<circle cx="86.2" cy="160.6" r="2.55" fill="none" stroke="#111" stroke-width="0.95"/>
<circle cx="102.6" cy="176.7" r="2.55" fill="none" stroke="#111" stroke-width="0.95"/>
<circle cx="127.2" cy="184" r="2.55" fill="none" stroke="#111" stroke-width="0.95"/>
<circle cx="151.8" cy="181.5" r="2.55" fill="none" stroke="#111" stroke-width="0.95"/>
<circle cx="201" cy="146.5" r="2.55" fill="none" stroke="#111" stroke-width="0.95"/>
<circle cx="250.2" cy="125.7" r="2.55" fill="none" stroke="#111" stroke-width="0.95"/>
<line x1="54.88" y1="73.4" x2="68.32" y2="121.5" stroke="#111" stroke-width="1.05" stroke-dasharray="3 3"/>
<line x1="72.33" y1="131.68" x2="83.67" y2="153.52" stroke="#111" stroke-width="1.05" stroke-dasharray="3 3"/>
<line x1="90.12" y1="162.25" x2="98.68" y2="170.65" stroke="#111" stroke-width="1.05" stroke-dasharray="3 3"/>
<line x1="107.91" y1="175.93" x2="121.89" y2="179.67" stroke="#111" stroke-width="1.05" stroke-dasharray="3 3"/>
<line x1="132.68" y1="180.61" x2="146.32" y2="179.39" stroke="#111" stroke-width="1.05" stroke-dasharray="3 3"/>
<line x1="156.25" y1="175.67" x2="196.55" y2="146.43" stroke="#111" stroke-width="1.05" stroke-dasharray="3 3"/>
<line x1="206.08" y1="141.08" x2="245.12" y2="124.82" stroke="#111" stroke-width="1.05" stroke-dasharray="3 3"/>
<circle cx="53.4" cy="68.1" r="2.55" fill="none" stroke="#111" stroke-width="0.95"/>
<circle cx="69.8" cy="126.8" r="2.55" fill="none" stroke="#111" stroke-width="0.95"/>
<circle cx="86.2" cy="158.4" r="2.55" fill="none" stroke="#111" stroke-width="0.95"/>
<circle cx="102.6" cy="174.5" r="2.55" fill="none" stroke="#111" stroke-width="0.95"/>
<circle cx="127.2" cy="181.1" r="2.55" fill="none" stroke="#111" stroke-width="0.95"/>
<circle cx="151.8" cy="178.9" r="2.55" fill="none" stroke="#111" stroke-width="0.95"/>
<circle cx="201" cy="143.2" r="2.55" fill="none" stroke="#111" stroke-width="0.95"/>
<circle cx="250.2" cy="122.7" r="2.55" fill="none" stroke="#111" stroke-width="0.95"/>
<rect x="176.3" y="189.3" width="64.6" height="51.8" fill="none" stroke="#1c1c1c" stroke-width="1.1"/>
<line x1="186.8" y1="207" x2="208.7" y2="207" stroke="#c8222a" stroke-width="1.25"/>
<line x1="186.8" y1="224" x2="208.7" y2="224" stroke="#111" stroke-width="1.25"/>
<text x="212.9" y="210.7" font-size="14">SC</text>
<text x="212.9" y="227.7" font-size="14">CP</text>
</g>
</svg></body></html>
